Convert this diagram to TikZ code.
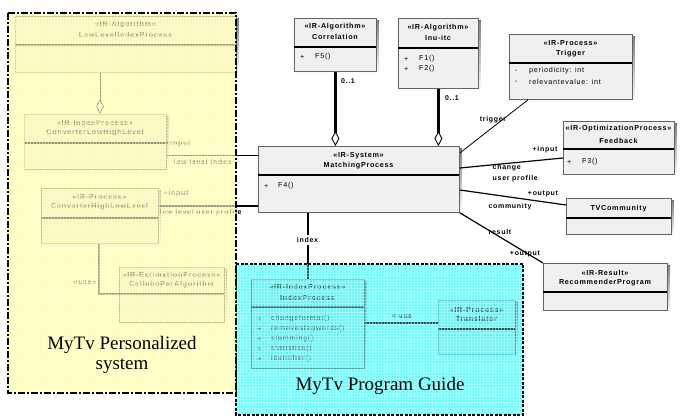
\documentclass[tikz,border=0pt]{standalone}
\usepackage{fontspec}
\setmainfont{Liberation Sans}
\newfontfamily\boxfont[LetterSpace=10]{Liberation Sans}
\newfontfamily\bigfont{Liberation Serif}
\usetikzlibrary{arrows.meta}

\definecolor{boxfill}{RGB}{240,240,240}
\definecolor{boxline}{RGB}{100,100,100}
\definecolor{shade}{RGB}{150,150,150}
\definecolor{sysyellow}{RGB}{255,255,180}
\definecolor{guidecyan}{RGB}{100,255,255}

\tikzset{
  classbox/.style={draw=boxline, fill=boxfill, line width=0.8pt, inner sep=0pt},
  divider/.style={line width=1.8pt, black},
  title/.style={font=\boxfont\bfseries\fontsize{7.2}{8}\selectfont, inner sep=0pt},
  member/.style={font=\boxfont\fontsize{7.2}{8}\selectfont, inner sep=0pt, anchor=west},
  role/.style={font=\boxfont\bfseries\fontsize{7}{8}\selectfont, inner sep=0.5pt},
  thinlink/.style={line width=0.8pt, black},
  midlink/.style={line width=1.2pt, black},
  heavylink/.style={line width=2.2pt, black},
  agg/.style={-{Diamond[fill=white, length=15pt, width=8pt, line width=0.9pt]}},
  bigtext/.style={font=\bigfont\fontsize{19}{20}\selectfont, align=center, inner sep=0pt},
  pkggrid/.style={white, opacity=0.45, line width=0.5pt, step=3pt},
}

% class box: name, x1, y1, x2, y2, y of the compartment line
\newcommand\umlclass[6]{%
  \fill[shade] (#2+2.5,#3+2.5) rectangle (#4+2.5,#5+2.5);
  \node[classbox, anchor=north west, minimum width={#4-#2}, minimum height={#5-#3}] (#1) at (#2,#3) {};
  \draw[divider] (#2,#6) -- (#4,#6);
}

\begin{document}
\begin{tikzpicture}[x=1pt, y=-1pt]
\useasboundingbox (0,0) rectangle (681,419);
\fill[white] (0,0) rectangle (681,419);

% ---------- classes of the personalised system ----------
\umlclass{lowlevel}{15}{16}{236}{72}{45}
\node[title] at (125.5,25) {«IR-Algorithm»};
\node[title] at (125.5,35) {LowLevelIndexProcess};

\umlclass{convLH}{24}{114}{166}{169}{143}
\node[title] at (95,123) {«IR-IndexProcess»};
\node[title] at (95,133) {ConverterLowHighLevel};

\umlclass{convHL}{41}{188}{158}{243}{218}
\node[title] at (99.5,197) {«IR-Process»};
\node[title] at (99.5,207) {ConverterHighLowLevel};

\umlclass{colla}{119}{267}{224}{322}{294}
\node[title] at (171.5,275) {«IR-EstimationProcess»};
\node[title] at (171.5,285) {CollaboParAlgorithm};

% ---------- central classes ----------
\umlclass{corr}{294}{18}{376}{71}{47}
\node[title] at (335,27) {«IR-Algorithm»};
\node[title] at (335,37) {Correlation};
\node[member] at (300,57) {+};
\node[member] at (315,57) {F5()};

\umlclass{inu}{398}{18}{478}{88}{48}
\node[title] at (438,28) {«IR-Algorithm»};
\node[title] at (438,38) {Inu-itc};
\node[member] at (404,59) {+};
\node[member] at (419,59) {F1()};
\node[member] at (404,69) {+};
\node[member] at (419,69) {F2()};

\umlclass{mp}{258}{146}{459}{212}{175}
\node[title] at (358.5,156) {«IR-System»};
\node[title] at (358.5,166) {MatchingProcess};
\node[member] at (264,186) {+};
\node[member] at (278,186) {F4()};

\umlclass{trig}{509}{34}{632}{99}{63}
\node[title] at (570.5,43) {«IR-Process»};
\node[title] at (570.5,54) {Trigger};
\node[member] at (515,71) {-};
\node[member] at (529,71) {periodicity: int};
\node[member] at (515,82) {-};
\node[member] at (529,82) {relevantevalue: int};

\umlclass{feed}{563}{121}{674}{174}{149}
\node[title] at (618.5,129) {«IR-OptimizationProcess»};
\node[title] at (618.5,141) {Feedback};
\node[member] at (567,162) {+};
\node[member] at (582,162) {F3()};

\umlclass{tvc}{566}{198}{671}{234}{218}
\node[title] at (618.5,209) {TVCommunity};

\umlclass{rec}{543}{263}{667}{310}{292}
\node[title] at (605,273) {«IR-Result»};
\node[title] at (605,283) {RecommenderProgram};

% ---------- program guide classes ----------
\umlclass{idx}{251}{279}{364}{368}{307}
\node[title] at (307.5,287) {«IR-IndexProcess»};
\node[title] at (307.5,298) {IndexProcess};
\foreach \m [count=\i from 0] in {changeformat(), removestopwords(), stemming(), statistics(), identifier()} {
  \node[member] at (257,319+10*\i) {+};
  \node[member] at (271,319+10*\i) {\m};
}

\umlclass{trans}{438}{300}{515}{354}{329}
\node[title] at (476.5,310) {«IR-Process»};
\node[title] at (476.5,319) {Translator};

% ---------- connectors ----------
\draw[thinlink, agg] (lowlevel.south -| 100,0) -- (convLH.north -| 100,0);
\draw[thinlink] (convLH.east |- 0,155) -- (mp.west |- 0,155);
\node[role] at (178,144) {+input};
\node[role, anchor=west] at (173,162) {low level index};

\draw[heavylink] (convHL.east |- 0,206) -- (mp.west |- 0,206);
\node[role] at (176,194) {+input};
\node[role, anchor=west] at (159,213) {low level user profile};

\draw[heavylink] (convHL.south -| 99,0) |- (colla.west |- 0,294);
\node[role] at (85,283) {«use»};

\draw[heavylink, agg] (corr.south) -- (corr.south |- mp.north);
\node[role] at (348,81) {0..1};
\draw[heavylink, agg] (inu.south) -- (inu.south |- mp.north);
\node[role] at (452,98) {0..1};

\draw[thinlink] (mp.east |- 0,153) -- (trig.south -| 528,0);
\node[role] at (493,120) {trigger};

\draw[midlink] (mp.east |- 0,168) -- (feed.west |- 0,158);
\node[role] at (545,150) {+input};
\node[role, anchor=west] at (492,168) {change};
\node[role, anchor=west] at (492,179) {user profile};

\draw[midlink] (mp.east |- 0,190) -- (tvc.west |- 0,205);
\node[role] at (543,194) {+output};
\node[role] at (510,207) {community};

\draw[midlink] (mp.south east) -- (rec.north west);
\node[role] at (500,232) {result};
\node[role] at (525,254) {+output};

\draw[heavylink] (mp.south -| idx.north) -- (idx.north);
\node[role, fill=white, inner sep=2pt] at (307.5,240) {index};

\draw[heavylink] (idx.east |- 0,323) -- (trans.west |- 0,323);
\node[role] at (402,316) {< use};

% ---------- MyTv Program Guide package ----------
\fill[guidecyan, blend mode=multiply] (236,264) rectangle (523,415);
\fill[guidecyan, opacity=0.35] (236,264) rectangle (523,415);
\draw[pkggrid] (236,264) grid (523,415);
\draw[black, line width=2pt, dash pattern=on 3pt off 1.5pt] (236,264) rectangle (523,415);
\node[bigtext] at (380,386) {MyTv Program Guide};

% ---------- MyTv Personalized system package ----------
\fill[sysyellow, blend mode=multiply] (8,13) rectangle (236,393);
\fill[sysyellow, opacity=0.6] (8,13) rectangle (236,393);
\draw[pkggrid] (8,13) grid (236,393);
\draw[black, line width=2.5pt, dash pattern=on 7pt off 2pt on 2pt off 2pt] (8,13) rectangle (236,393);
\node[bigtext] at (122,355) {MyTv Personalized\\system};
\end{tikzpicture}
\end{document}
